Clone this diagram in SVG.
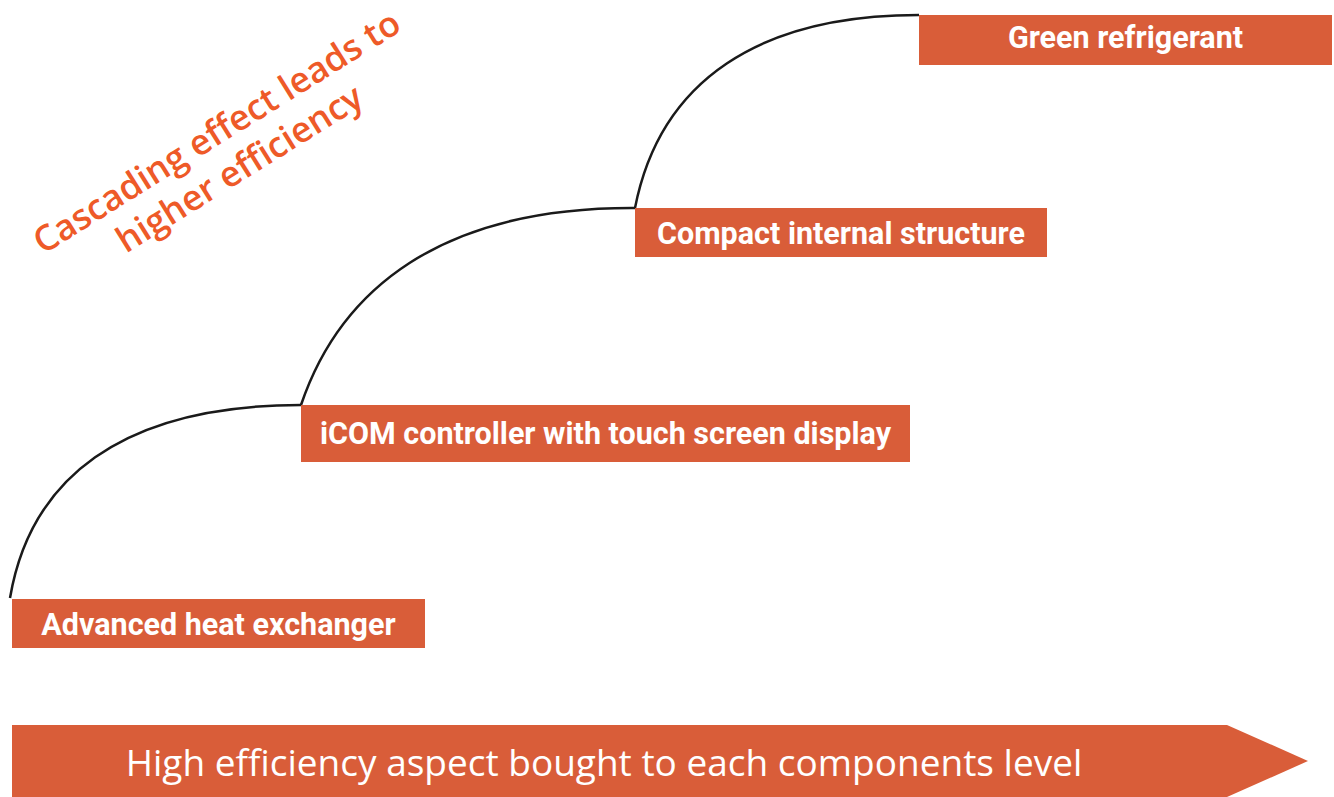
<svg xmlns="http://www.w3.org/2000/svg" width="1334" height="797" viewBox="0 0 1334 797">
  <style>
    .box { fill: #D95D39; }
    .label { fill: #FFFFFF; font-family: Roboto, "Liberation Sans", sans-serif; font-weight: bold; font-size: 30.5px; text-anchor: middle; }
    .curve { fill: none; stroke: #1A1A1A; stroke-width: 2.5; }
    .headline { fill: #EE5A28; font-family: "Open Sans", "Liberation Sans", sans-serif; font-weight: 600; font-size: 35.5px; text-anchor: middle; }
    .banner-text { fill: #FFFFFF; font-family: "Open Sans", "Liberation Sans", sans-serif; font-size: 37px; text-anchor: middle; }
  </style>

  <rect width="1334" height="797" fill="#FFFFFF"/>

  <!-- rotated heading -->
  <g id="heading" transform="translate(228,150) rotate(-32)">
    <text class="headline" x="0" y="-9">Cascading effect leads to</text>
    <text class="headline" x="0" y="34">higher efficiency</text>
  </g>

  <!-- connecting arcs between steps -->
  <g id="connectors">
    <path class="curve" d="M 10 598 C 30 480, 120 405, 301 405"/>
    <path class="curve" d="M 301 405 C 340 290, 440 207, 635 208"/>
    <path class="curve" d="M 635 208 C 660 80, 760 15, 919 15"/>
  </g>

  <g id="step-heat-exchanger">
    <rect class="box" x="12" y="599" width="413" height="49"/>
    <text class="label" x="218.5" y="635">Advanced heat exchanger</text>
  </g>

  <g id="step-icom">
    <rect class="box" x="301" y="405" width="609" height="57"/>
    <text class="label" x="605.5" y="444">iCOM controller with touch screen display</text>
  </g>

  <g id="step-compact">
    <rect class="box" x="635" y="208" width="412" height="49"/>
    <text class="label" x="841" y="244">Compact internal structure</text>
  </g>

  <g id="step-refrigerant">
    <rect class="box" x="919" y="15" width="413" height="50"/>
    <text class="label" x="1125.5" y="48">Green refrigerant</text>
  </g>

  <!-- bottom banner arrow -->
  <g id="banner">
    <polygon class="box" points="12,725 1227,725 1308,761 1227,797 12,797"/>
    <text class="banner-text" x="604" y="776">High efficiency aspect bought to each components level</text>
  </g>
</svg>
